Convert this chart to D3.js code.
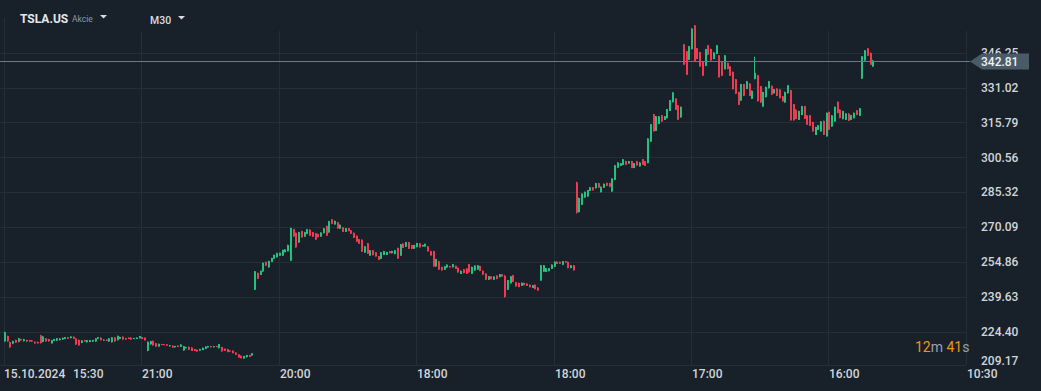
<!DOCTYPE html>
<html>
<head>
<meta charset="utf-8">
<script src="https://cdn.jsdelivr.net/npm/d3@7"></script>
<style>
html, body { margin: 0; padding: 0; background: #18212a; overflow: hidden; }
svg { display: block; font-family: Roboto, "Noto Sans", sans-serif; }
</style>
</head>
<body>
<script>
// M30 candles, [open, high, low, close], one array per gap-separated run
var session1 = [
[220.2,224.4,220.0,224.2],[222.5,222.7,220.0,220.2],[219.9,220.1,217.4,217.6],[219.2,220.5,219.0,220.3],
[220.8,220.9,219.5,219.6],[220.0,221.7,219.8,221.5],[221.2,221.3,220.5,220.6],[220.3,221.3,220.1,221.1],
[220.8,220.9,220.0,220.1],[220.7,220.8,220.0,220.1],[220.6,220.8,220.0,220.1],[220.0,220.1,219.2,219.3],
[219.9,220.1,219.2,219.3],[222.8,223.0,219.2,219.4],[220.0,222.5,219.8,222.3],[221.5,221.6,220.0,220.2],
[221.2,221.3,220.0,220.2],[219.3,220.8,219.2,220.7],[220.4,221.3,220.3,221.2],[220.5,221.6,220.3,221.5],
[220.7,221.6,220.6,221.4],[221.0,221.8,220.9,221.7],[221.3,222.1,221.2,222.0],[222.0,222.1,221.2,221.3],
[221.6,222.4,221.5,222.3],[222.2,222.3,221.2,221.3],[221.4,221.6,218.6,218.8],[220.8,221.0,218.3,218.4],
[219.5,220.7,219.4,220.6],[220.7,220.8,220.0,220.1],[219.8,220.8,219.7,220.7],[219.9,220.8,219.8,220.7],
[220.1,220.8,220.0,220.8],[220.1,221.5,220.0,221.5],[221.3,222.1,221.2,222.0],[221.8,221.9,220.6,220.7],
[220.5,221.0,220.4,220.9],[220.9,221.0,220.3,220.4],[220.1,221.6,220.0,221.5],[219.8,222.0,219.7,221.9],
[221.9,222.0,220.0,220.1],[220.7,222.7,220.6,222.6],[221.3,222.2,221.2,222.1],[222.2,222.3,220.9,221.0],
[221.6,221.7,220.9,221.0],[221.8,221.9,221.2,221.2],[221.8,221.9,220.9,221.0],[221.2,221.7,221.2,221.6],
[221.2,221.9,221.2,221.8],[221.5,222.5,221.5,222.5],[222.1,222.2,221.2,221.2],[221.8,221.9,220.6,220.6],
[216.0,220.1,215.9,220.0],[218.9,220.4,218.8,220.3],[220.4,220.5,218.3,218.4],[219.4,219.5,217.8,217.9],
[217.9,219.2,217.8,219.1],[219.0,219.1,218.6,218.6],[218.9,219.0,218.6,218.6],[218.9,219.0,218.3,218.3],
[218.0,218.6,217.9,218.5],[218.3,218.4,217.4,217.5],[217.6,218.2,217.5,218.2],[218.3,218.4,217.7,217.7],
[217.8,218.9,217.7,218.8],[216.2,218.2,216.1,218.1],[217.2,217.8,217.1,217.7],[217.8,217.9,216.4,216.5],
[217.5,217.6,216.0,216.0],[216.8,216.9,216.0,216.0],[216.5,216.6,215.7,215.7],[216.1,216.9,216.1,216.8],
[216.4,217.4,216.4,217.4],[216.9,218.0,216.8,217.9],[217.5,218.2,217.5,218.1],[218.1,218.2,217.6,217.6],
[217.6,218.2,217.6,218.1],[218.1,218.2,217.7,217.7],[217.2,219.0,217.1,219.0],[217.7,217.8,215.7,215.8],
[217.0,217.0,216.0,216.0],[216.8,216.9,215.4,215.5],[216.2,216.3,215.7,215.7],[216.1,216.2,215.0,215.0],
[215.3,215.4,214.2,214.3],[214.5,214.6,213.1,213.1],[213.9,214.0,212.8,212.8],[212.7,213.8,212.6,213.8],
[213.3,214.3,213.2,214.2],[214.2,214.3,213.4,213.4],[214.0,215.1,213.9,215.0]
];
var session2 = [
[242.7,250.9,242.6,250.8],[250.1,250.2,247.4,247.5],[249.2,251.1,249.2,251.0],[250.7,254.6,250.6,254.5],
[254.9,255.0,253.1,253.2],[252.5,255.4,252.4,255.3],[254.9,256.7,254.9,256.6],[256.3,258.0,256.3,258.0],
[256.9,258.9,256.9,258.8],[257.6,258.9,257.6,258.9],[257.6,260.2,257.6,260.1],[259.1,260.4,259.1,260.3],
[259.5,262.4,259.5,262.3],[255.4,269.8,255.3,269.7],[269.2,269.3,265.9,266.0],[267.6,267.7,261.1,261.2],
[263.3,268.0,263.3,267.9],[268.4,268.5,265.5,265.6],[265.9,268.0,265.9,267.9],[267.1,269.3,267.1,269.2],
[269.0,269.1,266.2,266.3],[267.9,268.0,265.8,265.9],[267.4,267.5,264.5,264.6],[267.1,267.2,265.6,265.7],
[265.9,267.8,265.9,267.7],[267.4,269.7,267.4,269.6],[270.6,270.7,266.2,266.3],[267.7,272.8,267.7,272.7],
[273.5,273.6,271.4,271.5],[271.2,272.9,271.2,272.8],[272.2,272.3,269.4,269.5],[269.4,271.2,269.4,271.1],
[270.0,270.1,268.0,268.0],[268.0,269.7,268.0,269.6],[269.6,269.7,268.3,268.3],[268.7,268.8,267.1,267.2],
[267.6,267.7,265.3,265.4],[266.3,266.4,263.6,263.7],[264.8,264.9,262.7,262.8],[264.6,264.7,259.2,259.3],
[258.9,261.8,258.9,261.7],[263.1,263.2,258.4,258.5],[257.6,260.1,257.6,260.0],[260.0,260.1,257.8,257.8],
[259.1,259.2,257.2,257.2],[257.4,257.5,255.7,255.8],[256.2,259.2,256.2,259.1],[257.9,259.7,257.9,259.6],
[257.9,259.3,257.9,259.2],[259.6,259.7,258.6,258.7],[258.7,259.7,258.6,259.6],[258.3,260.1,258.2,260.0],
[261.0,261.1,256.2,256.3],[257.6,262.7,257.6,262.6],[262.9,263.0,261.0,261.0],[261.5,263.6,261.5,263.5],
[263.5,263.6,260.6,260.6],[262.2,262.3,260.5,260.6],[260.6,262.3,260.5,262.3],[261.3,263.2,261.3,263.1],
[263.0,263.1,261.2,261.2],[261.6,262.3,261.6,262.3],[261.6,262.8,261.6,262.8],[261.7,261.8,259.4,259.5],
[259.6,259.7,257.6,257.7],[259.6,259.7,252.8,252.9],[252.9,256.2,252.8,256.1],[255.2,255.3,251.4,251.5],
[252.7,252.8,251.1,251.2],[251.4,253.1,251.4,253.0],[252.4,253.8,252.4,253.7],[253.1,253.1,252.4,252.5],
[252.5,254.0,252.5,253.9],[253.2,253.2,251.8,251.8],[252.3,252.4,250.2,250.3],[249.6,251.1,249.6,251.0],
[251.7,251.8,249.9,250.0],[252.0,252.1,249.6,249.7],[253.9,254.0,250.2,250.3],[249.7,252.8,249.6,252.7],
[251.1,253.4,251.1,253.3],[251.5,253.5,251.5,253.4],[253.1,253.2,250.8,250.9],[251.0,251.1,249.2,249.3],
[249.8,249.9,247.0,247.1],[247.1,248.7,247.0,248.6],[248.6,248.7,247.3,247.3],[247.1,248.6,247.0,248.5],
[248.9,249.0,247.3,247.4],[248.2,249.6,248.2,249.5],[249.5,249.6,248.5,248.5],[248.8,249.2,239.3,239.6],
[242.7,247.0,242.6,246.9],[245.5,248.7,245.5,248.6],[249.1,249.2,246.1,246.2],[246.0,246.1,244.1,244.2],
[245.7,245.8,243.8,243.9],[244.4,245.8,244.4,245.8],[245.7,245.8,244.7,244.7],[245.4,245.5,244.4,244.4],
[244.9,245.0,243.8,243.8],[243.5,244.8,243.5,244.7],[244.9,245.0,242.9,243.0],[243.7,243.8,242.3,242.4],
[246.7,253.5,246.7,253.4],[250.6,253.5,250.6,253.4],[250.5,252.2,250.5,252.1],[250.8,252.2,250.8,252.1],
[251.8,253.8,251.8,253.7],[252.8,255.1,252.8,255.0],[255.0,255.1,254.0,254.0],[254.9,255.0,254.1,254.1],
[253.6,255.3,253.5,255.2],[255.2,255.3,254.6,254.6],[254.9,255.0,252.1,252.2],[252.2,253.5,252.1,253.4],
[253.4,253.5,251.1,251.2]
];
var session3 = [
[289.6,289.9,276.0,276.4],[276.6,282.9,276.5,282.8],[279.8,284.8,279.7,284.7],[283.0,285.6,282.9,285.5],
[283.4,286.3,283.4,286.2],[285.9,287.6,285.9,287.5],[287.5,287.6,286.1,286.1],[287.0,289.4,287.0,289.3],
[289.3,289.4,287.3,287.3],[285.3,287.8,285.3,287.7],[287.3,289.1,287.3,289.0],[289.4,289.5,288.0,288.1],
[289.3,289.4,287.6,287.7],[285.6,291.4,285.6,291.3],[290.7,297.2,290.7,297.1],[296.0,298.4,296.0,298.3],
[296.8,298.1,296.8,298.0],[297.2,299.8,297.2,299.7],[298.9,299.0,297.2,297.3],[297.8,299.0,297.8,298.9],
[298.9,299.0,295.8,295.9],[295.9,298.1,295.8,298.0],[298.9,299.0,297.0,297.0],[296.6,298.4,296.5,298.3],
[299.7,299.8,297.2,297.3],[298.9,299.0,296.8,296.8],[298.0,308.9,298.0,308.8],[307.4,315.1,307.4,315.0],
[319.4,319.5,311.8,311.9],[312.1,318.6,312.1,318.5],[315.1,318.6,315.1,318.5],[318.9,319.0,316.1,316.2],
[316.9,318.6,316.9,318.5],[317.6,321.7,317.6,321.6],[320.8,325.6,320.8,325.5],[324.6,329.0,324.6,328.9],
[326.2,326.3,321.2,321.3],[323.3,323.4,316.9,317.0],[318.0,322.7,317.9,322.6]
];
var session4 = [
[349.9,350.0,340.9,341.0],[346.9,347.0,336.5,336.6],[343.1,349.2,343.1,349.1],[347.8,356.9,347.7,356.8],
[358.2,358.3,342.3,342.4],[348.2,348.3,343.4,343.5],[346.5,346.6,340.1,340.2],[342.2,342.3,336.1,336.2],
[340.5,347.9,340.4,347.8],[349.5,349.6,345.2,345.3],[347.9,348.0,342.8,342.9],[343.5,346.4,343.4,346.3],
[345.7,349.6,345.7,349.5],[345.1,345.2,335.4,335.5],[342.2,342.3,336.1,336.2],[339.0,345.2,339.0,345.1],
[341.8,341.9,339.0,339.1],[340.3,340.4,336.1,336.2],[337.9,338.0,330.2,330.3],[334.7,334.8,328.2,328.3],
[329.1,329.2,323.4,323.5],[325.3,332.6,325.3,332.5],[332.5,332.6,327.3,327.4],[330.4,333.9,330.4,333.8],
[332.8,332.9,327.3,327.4],[326.1,329.7,326.0,329.6],[334.8,344.5,334.6,337.5],[336.4,336.5,324.9,325.0],
[331.6,331.7,324.4,324.5],[322.7,329.2,322.7,329.1],[326.8,331.4,326.8,331.3],[330.7,333.9,330.7,333.8],
[331.8,331.9,327.8,327.9],[328.5,330.4,328.5,330.3],[330.6,330.7,327.3,327.4],[330.2,330.3,326.3,326.4],
[327.2,327.3,324.9,325.0],[324.5,329.2,324.4,329.1],[328.5,332.1,328.5,332.0],[329.9,330.0,316.6,316.7],
[323.8,323.9,316.6,316.7],[321.4,321.5,317.2,317.3],[316.9,320.9,316.9,320.8],[319.0,323.0,319.0,322.9],
[322.9,323.0,317.3,317.4],[318.9,319.0,314.7,314.8],[318.9,319.0,314.3,314.3],[316.0,316.1,311.8,311.9],
[310.3,313.9,310.3,313.8],[312.5,314.7,312.5,314.6],[311.8,316.4,311.8,316.3],[316.5,316.6,310.3,310.4],
[309.7,320.1,309.6,320.0],[320.4,320.5,312.5,312.6],[314.0,319.0,313.9,318.9],[316.2,322.7,316.1,322.6],
[324.8,324.9,319.8,319.9],[321.4,321.5,317.6,317.7],[317.2,320.9,317.2,320.8],[316.9,319.8,316.9,319.7],
[319.7,319.8,316.5,316.5],[316.9,319.0,316.9,319.0],[317.6,320.1,317.6,320.0],[321.1,321.2,319.0,319.1],
[318.7,322.1,318.6,322.0]
];
var session5 = [
[334.9,344.8,334.8,344.7],[342.8,347.4,342.8,347.3],[348.2,348.3,344.8,344.9],[346.2,346.3,340.9,341.0],
[340.2,343.1,340.1,342.81]
];

var yTicks = [209.17, 224.40, 239.63, 254.86, 270.09, 285.32, 300.56, 315.79, 331.02, 346.25];
var xTickIndex = [0, 50, 100, 150, 200, 250, 300, 350];
var xTickLabels = ["15:30", "21:00", "20:00", "18:00", "18:00", "17:00", "16:00", "10:30"];
var firstDate = "15.10.2024";
var symbol = "TSLA.US";
var symbolType = "Akcie";
var interval = "M30";
var lastPrice = 342.81;
var countdown = [["12", "m"], ["41", "s"]];

var width = 1041;
var height = 391;
var plotRight = 966;
var plotBottom = 365;

var candles = session1.concat(session2, session3, session4, session5);

var xScale = d3.scaleLinear().domain([0, 350]).range([4, 965.8]);
var yScale = d3.scaleLinear().domain([224.40, 346.25]).range([331.7, 52.7]);

var upColor = "#27bf80";
var downColor = "#ef3a4f";
var gridColor = "#232e37";
var textColor = "#d2d6da";

var svg = d3.select("body").append("svg")
.attr("width", width)
.attr("height", height);

svg.append("rect")
.attr("width", width)
.attr("height", height)
.attr("fill", "#18212a");

// horizontal grid
svg.append("g")
.selectAll("line")
.data(yTicks.filter(function(d){ return yScale(d) < plotBottom - 3; }))
.enter()
.append("line")
.attr("x1", 0)
.attr("x2", plotRight)
.attr("y1", function(d){ return Math.round(yScale(d)) + 0.5; })
.attr("y2", function(d){ return Math.round(yScale(d)) + 0.5; })
.attr("stroke", gridColor);

svg.append("line")
.attr("x1", 0).attr("x2", plotRight)
.attr("y1", plotBottom + 0.5).attr("y2", plotBottom + 0.5)
.attr("stroke", gridColor);

// vertical grid
svg.append("g")
.selectAll("line")
.data(xTickIndex)
.enter()
.append("line")
.attr("x1", function(d){ return Math.round(xScale(d)) + 0.5; })
.attr("x2", function(d){ return Math.round(xScale(d)) + 0.5; })
.attr("y1", function(d, i){ return i == 0 ? 18 : 31; })
.attr("y2", plotBottom)
.attr("stroke", gridColor);

// candles
var candleGroup = svg.append("g");
var candle = candleGroup.selectAll("g")
.data(candles)
.enter()
.append("g");

candle.append("line")
.attr("x1", function(d, i){ return Math.round(xScale(i)) + 0.5; })
.attr("x2", function(d, i){ return Math.round(xScale(i)) + 0.5; })
.attr("y1", function(d){ return yScale(d[1]); })
.attr("y2", function(d){ return yScale(d[2]); })
.attr("stroke", function(d){ return d[3] >= d[0] ? upColor : downColor; })
.attr("stroke-width", 1);

candle.append("rect")
.attr("x", function(d, i){ return Math.round(xScale(i)); })
.attr("width", 2)
.attr("y", function(d){ return yScale(Math.max(d[0], d[3])); })
.attr("height", function(d){ return Math.max(1, Math.abs(yScale(d[0]) - yScale(d[3]))); })
.attr("fill", function(d){ return d[3] >= d[0] ? upColor : downColor; });

// last price line
var lastY = Math.round(yScale(lastPrice)) + 0.5;
svg.append("line")
.attr("x1", 0).attr("x2", 970)
.attr("y1", lastY).attr("y2", lastY)
.attr("stroke", "#6c7984");

// y axis labels
svg.append("g")
.selectAll("text")
.data(yTicks)
.enter()
.append("text")
.attr("x", 981)
.attr("y", function(d){ return Math.min(yScale(d), 361); })
.attr("dy", "0.35em")
.attr("fill", textColor)
.attr("font-size", 12)
.attr("font-weight", 500)
.text(function(d){ return d.toFixed(2); });

// last price flag
svg.append("path")
.attr("d", "M970," + lastY + "L982," + (lastY - 8) + "H1029V" + (lastY + 8) + "H982Z")
.attr("fill", "#4a5b67");
svg.append("text")
.attr("x", 981)
.attr("y", lastY)
.attr("dy", "0.35em")
.attr("fill", "#eef1f3")
.attr("font-size", 12)
.attr("font-weight", 500)
.text(lastPrice.toFixed(2));

// x axis labels
svg.append("text")
.attr("x", 4)
.attr("y", 377.5)
.attr("fill", textColor)
.attr("font-size", 12)
.attr("font-weight", 500)
.text(firstDate);

svg.append("g")
.selectAll("text")
.data(xTickIndex)
.enter()
.append("text")
.attr("x", function(d, i){ return i == 0 ? 73 : Math.round(xScale(d)) + 1; })
.attr("y", 377.5)
.attr("fill", textColor)
.attr("font-size", 12)
.attr("font-weight", 500)
.text(function(d, i){ return xTickLabels[i]; });

// header
svg.append("text")
.attr("x", 20).attr("y", 22.5)
.attr("fill", "#e4e8eb")
.attr("font-size", 12)
.attr("font-weight", 700)
.text(symbol);
svg.append("text")
.attr("x", 72).attr("y", 22)
.attr("fill", "#8d9aa4")
.attr("font-size", 8.5)
.text(symbolType);
svg.append("path")
.attr("d", "M100,15H107L103.5,18.5Z")
.attr("fill", "#d8dce0");
svg.append("text")
.attr("x", 150).attr("y", 23.5)
.attr("fill", "#d8dce0")
.attr("font-size", 10.5)
.attr("font-weight", 500)
.text(interval);
svg.append("path")
.attr("d", "M178,16H185L181.5,19.5Z")
.attr("fill", "#d8dce0");

// candle countdown
var cd = svg.append("text")
.attr("x", 915).attr("y", 351.5)
.attr("font-size", 14);
countdown.forEach(function(p, i){
	cd.append("tspan").attr("fill", "#f0921c").text((i > 0 ? " " : "") + p[0]);
	cd.append("tspan").attr("fill", "#98a3ac").text(p[1]);
});
</script>
</body>
</html>
